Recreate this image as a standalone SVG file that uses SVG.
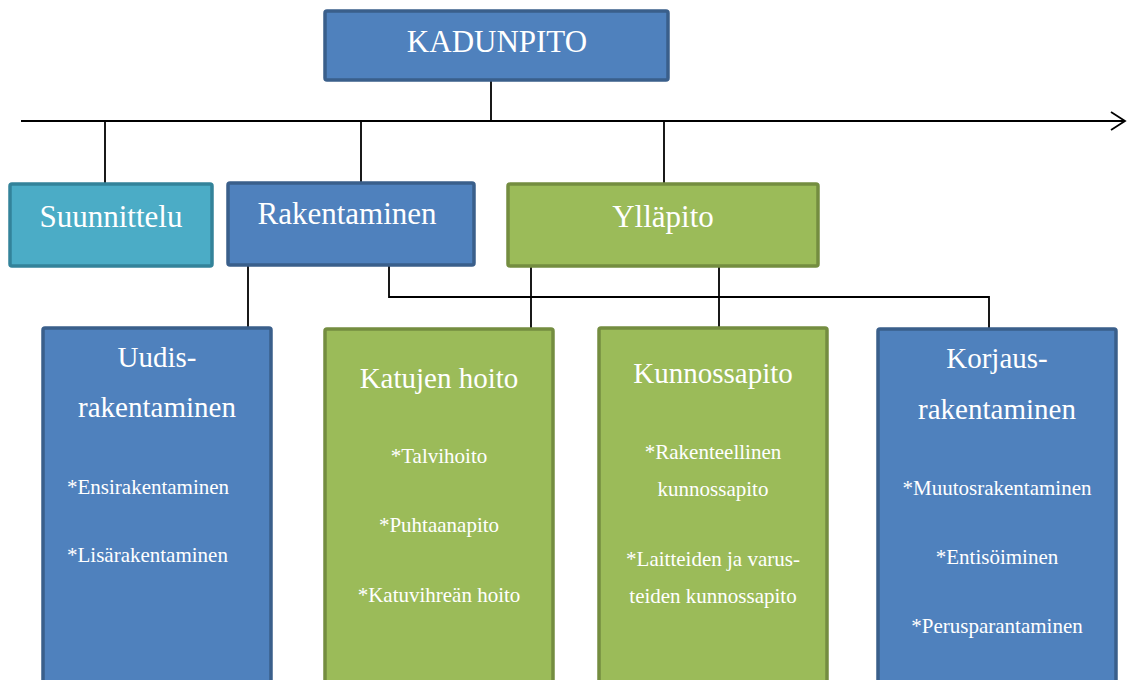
<svg xmlns="http://www.w3.org/2000/svg" width="1127" height="680" viewBox="0 0 1127 680">
<style>
.blue{fill:#4F81BD;stroke:#3A5F8B;stroke-width:3.5}
.green{fill:#9BBB59;stroke:#748D40;stroke-width:3.5}
.teal{fill:#4BACC6;stroke:#33839A;stroke-width:3.5}
text{font-family:"Liberation Serif","Times New Roman",serif;fill:#FFFFFF;text-anchor:middle}
.h1{font-size:31px}
.h2{font-size:29px}
.it{font-size:21px}
.con{fill:none;stroke:#000;stroke-width:1.8}
</style>
<g id="connectors">
<line class="con" x1="21" y1="121" x2="1125" y2="121"/>
<polyline class="con" points="1111,112 1125,121 1111,130"/>
<line class="con" x1="491" y1="80" x2="491" y2="121"/>
<line class="con" x1="105" y1="121" x2="105" y2="183"/>
<line class="con" x1="361" y1="121" x2="361" y2="182"/>
<line class="con" x1="664" y1="121" x2="664" y2="183"/>
<line class="con" x1="248" y1="266" x2="248" y2="327"/>
<polyline class="con" points="389,266 389,297 989,297 989,328"/>
<line class="con" x1="531" y1="267" x2="531" y2="328"/>
<line class="con" x1="719" y1="267" x2="719" y2="327"/>
</g>
<g id="kadunpito">
<rect class="blue" x="325" y="11" width="343" height="69" rx="2"/>
<text class="h1" x="497" y="52">KADUNPITO</text>
</g>
<g id="suunnittelu">
<rect class="teal" x="10" y="184" width="202" height="82" rx="2"/>
<text class="h1" x="111" y="227">Suunnittelu</text>
</g>
<g id="rakentaminen">
<rect class="blue" x="228" y="183" width="246" height="82" rx="2"/>
<text class="h1" x="347" y="224">Rakentaminen</text>
</g>
<g id="yllapito">
<rect class="green" x="508" y="184" width="310" height="82" rx="2"/>
<text class="h1" x="663" y="227">Ylläpito</text>
</g>
<g id="uudisrakentaminen">
<rect class="blue" x="43" y="328" width="228" height="370" rx="2"/>
<text class="h2" x="157" y="367">Uudis-</text>
<text class="h2" x="157" y="417">rakentaminen</text>
<text class="it" x="67" y="494" style="text-anchor:start">*Ensirakentaminen</text>
<text class="it" x="67" y="562" style="text-anchor:start">*Lisärakentaminen</text>
</g>
<g id="katujen-hoito">
<rect class="green" x="325" y="329" width="228" height="370" rx="2"/>
<text class="h2" x="439" y="388">Katujen hoito</text>
<text class="it" x="439" y="463">*Talvihoito</text>
<text class="it" x="439" y="532">*Puhtaanapito</text>
<text class="it" x="439" y="602">*Katuvihreän hoito</text>
</g>
<g id="kunnossapito">
<rect class="green" x="599" y="328" width="228" height="370" rx="2"/>
<text class="h2" x="713" y="383">Kunnossapito</text>
<text class="it" x="713" y="459">*Rakenteellinen</text>
<text class="it" x="713" y="496">kunnossapito</text>
<text class="it" x="713" y="566">*Laitteiden ja varus-</text>
<text class="it" x="713" y="603">teiden kunnossapito</text>
</g>
<g id="korjausrakentaminen">
<rect class="blue" x="878" y="329" width="238" height="370" rx="2"/>
<text class="h2" x="997" y="368">Korjaus-</text>
<text class="h2" x="997" y="419">rakentaminen</text>
<text class="it" x="997" y="495">*Muutosrakentaminen</text>
<text class="it" x="997" y="564">*Entisöiminen</text>
<text class="it" x="997" y="633">*Perusparantaminen</text>
</g>
</svg>
